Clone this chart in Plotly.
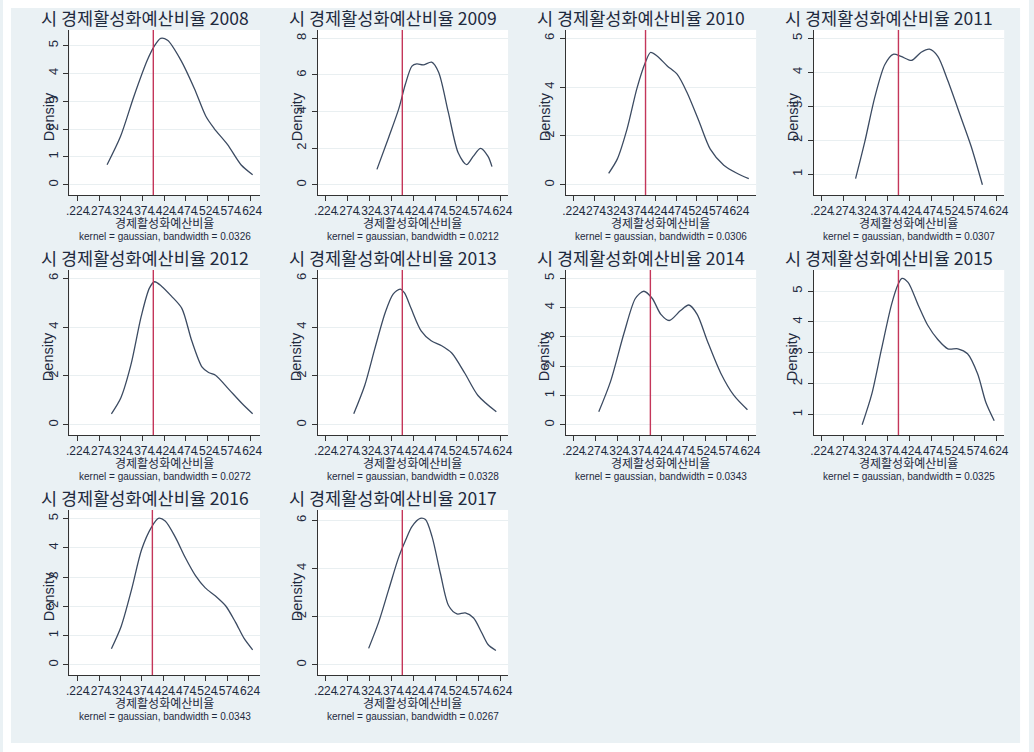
import plotly.graph_objects as go

W, H = 1034, 752

# ---------------- data ----------------
years = [2008, 2009, 2010, 2011, 2012, 2013, 2014, 2015, 2016, 2017]
bandwidths = ["0.0326", "0.0212", "0.0306", "0.0307", "0.0272",
              "0.0328", "0.0343", "0.0325", "0.0343", "0.0267"]

x_2008 = [.292, .323, .354, .385, .401, .416, .432, .463, .494, .521, .540, .571, .602, .629]
d_2008 = [.72, 1.73, 3.17, 4.47, 4.97, 5.26, 5.19, 4.47, 3.46, 2.45, 2.02, 1.44, .72, .36]

x_2009 = [.341, .368, .391, .406, .421, .432, .447, .466, .482, .504, .527, .546, .561, .578, .595, .604]
d_2009 = [.84, 2.6, 4.16, 5.49, 6.48, 6.6, 6.55, 6.7, 6.15, 3.98, 1.73, 1.1, 1.55, 1.99, 1.55, .99]

x_2010 = [.309, .330, .354, .378, .399, .411, .427, .452, .476, .500, .529, .557, .590, .622, .651]
d_2010 = [.47, 1.05, 2.29, 3.95, 5.03, 5.42, 5.28, 4.87, 4.53, 3.79, 2.62, 1.46, .80, .47, .25]

x_2011 = [.301, .322, .345, .368, .387, .405, .429, .451, .470, .489, .512, .542, .565, .591]
d_2011 = [.87, 1.95, 3.27, 4.23, 4.53, 4.47, 4.35, 4.59, 4.68, 4.47, 3.75, 2.67, 1.83, .69]

x_2012 = [.302, .324, .347, .371, .390, .402, .418, .441, .465, .488, .512, .527, .543, .574, .605, .629]
d_2012 = [.45, 1.11, 2.44, 4.44, 5.6, 5.86, 5.68, 5.27, 4.77, 3.44, 2.36, 2.14, 2.03, 1.45, .86, .45]

x_2013 = [.288, .313, .336, .360, .378, .394, .404, .419, .442, .465, .489, .512, .542, .572, .614]
d_2013 = [.45, 1.61, 3.11, 4.6, 5.35, 5.56, 5.40, 4.77, 3.85, 3.44, 3.24, 2.94, 2.11, 1.20, .53]

x_2014 = [.281, .308, .339, .365, .384, .403, .423, .442, .468, .487, .506, .529, .560, .590, .621]
d_2014 = [.44, 1.48, 3.14, 4.32, 4.56, 4.32, 3.77, 3.56, 3.9, 4.09, 3.77, 2.87, 1.76, 1.0, .51]

x_2015 = [.316, .338, .360, .383, .398, .407, .421, .444, .466, .489, .512, .535, .557, .580, .599, .618]
d_2015 = [.67, 1.66, 3.1, 4.55, 5.21, 5.41, 5.28, 4.55, 3.89, 3.43, 3.13, 3.13, 2.97, 2.32, 1.39, .80]

x_2016 = [.303, .326, .350, .374, .397, .413, .429, .453, .476, .500, .523, .547, .571, .594, .614, .634]
d_2016 = [.55, 1.32, 2.56, 3.95, 4.71, 5.01, 4.92, 4.36, 3.67, 3.05, 2.63, 2.35, 2.01, 1.45, .90, .51]

x_2017 = [.322, .345, .368, .391, .406, .421, .440, .452, .467, .486, .505, .524, .543, .562, .580, .595, .613]
d_2017 = [.68, 1.77, 3.13, 4.48, 5.15, 5.74, 6.08, 6.03, 5.32, 3.80, 2.45, 2.11, 2.15, 1.94, 1.35, .84, .59]

xs = [x_2008, x_2009, x_2010, x_2011, x_2012, x_2013, x_2014, x_2015, x_2016, x_2017]
ds = [d_2008, d_2009, d_2010, d_2011, d_2012, d_2013, d_2014, d_2015, d_2016, d_2017]

x_tick_vals = [.224, .274, .324, .374, .424, .474, .524, .574, .624]
x_tick_text = [".224", ".274", ".324", ".374", ".424", ".474", ".524", ".574", ".624"]

y_ticks = [
    [0, 1, 2, 3, 4, 5],
    [0, 2, 4, 6, 8],
    [0, 2, 4, 6],
    [1, 2, 3, 4, 5],
    [0, 2, 4, 6],
    [0, 2, 4, 6],
    [0, 1, 2, 3, 4, 5],
    [1, 2, 3, 4, 5],
    [0, 1, 2, 3, 4, 5],
    [0, 2, 4, 6],
]

ref_line = 0.399
title_prefix = "시 경제활성화예산비율"
x_title = "경제활성화예산비율"
y_title = "Density"

# ---------------- styles ----------------
BG = "#EAF1F4"
LINE = "#3C4B62"
RED = "#C4365A"
TXT = "#1E2A3E"
FONT = "Liberation Sans, Arial, Noto Sans CJK KR, sans-serif"
KFONT = "Noto Sans CJK KR, Liberation Sans, sans-serif"


def px(x):
    return x / W


def py(y):
    return 1 - y / H


fig = go.Figure()
layout = dict(
    width=W, height=H, margin=dict(l=0, r=0, t=0, b=0),
    paper_bgcolor=BG, plot_bgcolor="white", showlegend=False,
    font=dict(family=FONT, color=TXT),
)
annotations = []
shapes = []

for i, yr in enumerate(years):
    r, c = divmod(i, 4)
    left, right = 67 + 250 * c, 259 + 250 * c
    top, bottom = 30 + 240 * r, 195 + 240 * r
    sfx = "" if i == 0 else str(i + 1)
    xa, ya = "x" + sfx, "y" + sfx

    x0 = min(x_tick_vals[0], min(xs[i]))
    x1 = max(x_tick_vals[-1], max(xs[i]))
    sx = x1 - x0
    y0 = min(y_ticks[i][0], min(ds[i]))
    y1 = max(y_ticks[i][-1], max(ds[i]))
    sy = y1 - y0

    fig.add_trace(go.Scatter(
        x=xs[i], y=ds[i], mode="lines", line=dict(color=LINE, width=1.3, shape="spline", smoothing=0.8),
        xaxis=xa, yaxis=ya, hoverinfo="skip"))

    layout["xaxis" + sfx] = dict(
        domain=[px(left), px(right)], anchor=ya,
        range=[x0 - 0.047 * sx, x1 + 0.042 * sx],
        tickmode="array", tickvals=x_tick_vals, ticktext=x_tick_text,
        tickangle=0, ticks="outside", ticklen=5, tickcolor="#333", tickwidth=1,
        showline=True, linecolor="#333", linewidth=1, showgrid=False, zeroline=False,
        tickfont=dict(size=12, color=TXT, family=FONT), fixedrange=True,
    )
    layout["yaxis" + sfx] = dict(
        domain=[py(bottom), py(top)], anchor=xa,
        range=[y0 - 0.07 * sy, y1 + 0.057 * sy],
        tickmode="array", tickvals=y_ticks[i], ticktext=[str(v) for v in y_ticks[i]],
        tickangle=-90, ticks="outside", ticklen=5, tickcolor="#333", tickwidth=1,
        showline=True, linecolor="#333", linewidth=1, showgrid=True, gridcolor="#E9EFF1",
        gridwidth=1, zeroline=False,
        tickfont=dict(size=13, color=TXT, family=FONT), fixedrange=True,
    )

    shapes.append(dict(type="line", xref=xa, yref=ya + " domain", x0=ref_line, x1=ref_line,
                       y0=0, y1=1, line=dict(color=RED, width=1.4)))

    cx = (left + right) / 2
    annotations.append(dict(text=f"{title_prefix} {yr}", x=px(143 + 250 * c), y=py(17 + 240 * r),
                            xref="paper", yref="paper",
                            showarrow=False, xanchor="center", yanchor="middle",
                            font=dict(size=17.5, color=TXT, family=KFONT)))
    annotations.append(dict(text=x_title, x=px(cx), y=py(222 + 240 * r), xref="paper", yref="paper",
                            showarrow=False, xanchor="center", yanchor="middle",
                            font=dict(size=12, color=TXT, family=KFONT)))
    annotations.append(dict(text=f"kernel = gaussian, bandwidth = {bandwidths[i]}",
                            x=px(cx), y=py(236 + 240 * r), xref="paper", yref="paper",
                            showarrow=False, xanchor="center", yanchor="middle",
                            font=dict(size=10, color=TXT, family=FONT)))
    annotations.append(dict(text=y_title, x=px(left - 21), y=py((top + bottom) / 2 + 4), xref="paper", yref="paper",
                            showarrow=False, xanchor="center", yanchor="middle", textangle=-90,
                            font=dict(size=14.5, color=TXT, family=FONT)))

# white outer border
for (a, b, cc, d) in [(0, 0, W, 8), (0, H - 9, W, H), (0, 0, 8, H), (W - 9, 0, W, H)]:
    shapes.append(dict(type="rect", xref="paper", yref="paper", x0=px(a), x1=px(cc), y0=py(d), y1=py(b),
                       fillcolor="white", line=dict(width=0), layer="above"))

layout["annotations"] = annotations
layout["shapes"] = shapes
fig.update_layout(**layout)
fig.write_html("out.html", config={"displayModeBar": False},
               post_script="document.body.style.margin='0';")
